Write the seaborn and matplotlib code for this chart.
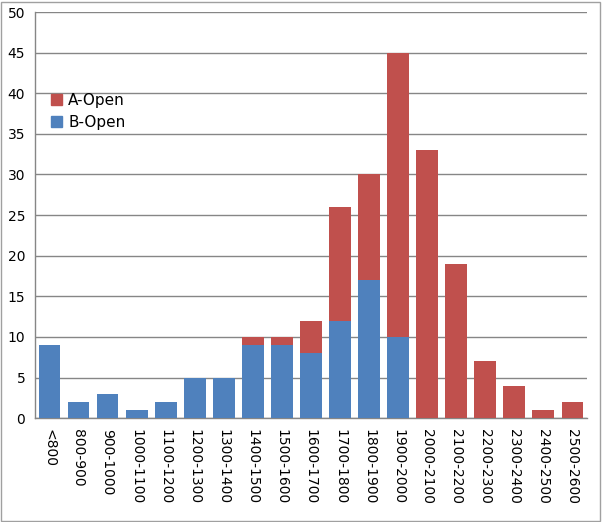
import numpy as np
import pandas as pd
import matplotlib
matplotlib.use("Agg")
import matplotlib.pyplot as plt
import seaborn as sns
from matplotlib.patches import Patch, Rectangle

categories = ["<800", "800-900", "900-1000", "1000-1100", "1100-1200", "1200-1300",
              "1300-1400", "1400-1500", "1500-1600", "1600-1700", "1700-1800",
              "1800-1900", "1900-2000", "2000-2100", "2100-2200", "2200-2300",
              "2300-2400", "2400-2500", "2500-2600"]
b_open = [9, 2, 3, 1, 2, 5, 5, 9, 9, 8, 12, 17, 10, 0, 0, 0, 0, 0, 0]
a_open = [0, 0, 0, 0, 0, 0, 0, 1, 1, 4, 14, 13, 35, 33, 19, 7, 4, 1, 2]

df = pd.DataFrame({"cat": categories, "B": b_open, "A": a_open})
df["total"] = df["A"] + df["B"]

sns.set_style("white")
plt.rcParams["font.family"] = ["DejaVu Sans"]
plt.rcParams["text.color"] = "black"
plt.rcParams["xtick.labelcolor"] = "black"
plt.rcParams["ytick.labelcolor"] = "black"

red = "#C0504D"
blue = "#4F81BD"
grid = "#868686"

fig = plt.figure(figsize=(6.02, 5.22), dpi=100)
ax = fig.add_axes([0.058, 0.199, 0.917, 0.778])

# red bars are the totals, blue drawn over them from zero
sns.barplot(data=df, x="cat", y="total", color=red, width=0.75, saturation=1,
            linewidth=0, ax=ax, zorder=3)
sns.barplot(data=df, x="cat", y="B", color=blue, width=0.75, saturation=1,
            linewidth=0, ax=ax, zorder=4)

ax.set_ylim(0, 50)
ax.set_xlim(-0.5, len(categories) - 0.5)
ax.set_yticks(range(0, 51, 5))
ax.yaxis.grid(True, color=grid, linewidth=1)
ax.set_axisbelow(True)
ax.set_xlabel("")
ax.set_ylabel("")

ax.set_xticks(range(len(categories)))
ax.set_xticklabels(categories, rotation=270, fontsize=10)
ax.set_xticks(np.arange(-0.5, len(categories), 1), minor=True)
ax.tick_params(axis="x", which="major", length=0, pad=8)
ax.tick_params(axis="x", which="minor", length=5, color=grid, direction="out")
ax.tick_params(axis="y", length=5, color=grid, direction="out", labelsize=10, pad=2)

for s in ["top", "right"]:
    ax.spines[s].set_visible(False)
for s in ["left", "bottom"]:
    ax.spines[s].set_color(grid)
    ax.spines[s].set_linewidth(1)

handles = [Patch(color=red, label="A-Open"), Patch(color=blue, label="B-Open")]
ax.legend(handles=handles, loc="upper left", bbox_to_anchor=(0.005, 0.835),
          frameon=False, fontsize=11, handlelength=0.7, handleheight=0.7,
          handletextpad=0.4, labelspacing=0.45)

fig.patches.append(Rectangle((0.002, 0.002), 0.995, 0.995, transform=fig.transFigure,
                             fill=False, edgecolor="#A0A0A0", linewidth=1))

fig.savefig("out.png", dpi=100)
